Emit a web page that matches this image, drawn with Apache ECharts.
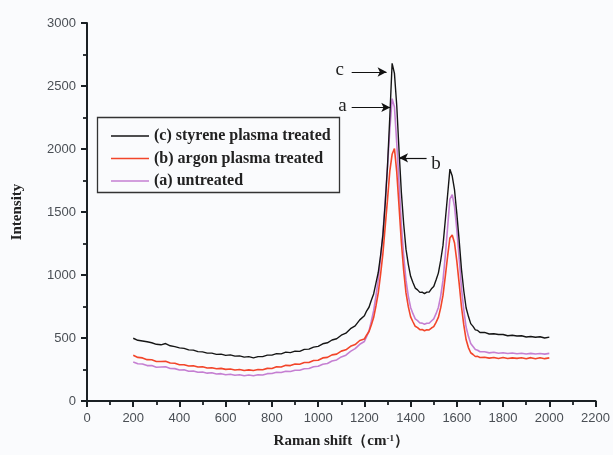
<!DOCTYPE html>
<html>
<head>
<meta charset="utf-8">
<script src="https://cdn.jsdelivr.net/npm/echarts@6/dist/echarts.min.js"></script>
<style>
html,body{margin:0;padding:0;background:#fafbfd;}
#c{width:613px;height:455px;}
</style>
</head>
<body>
<div id="c"></div>
<script>
// Raman shift (cm-1)
const ramanShift = [
 200,220,240,260,280,300,320,340,360,380,
 400,420,440,460,480,500,520,540,560,580,
 600,620,640,660,680,700,720,740,760,780,
 800,820,840,860,880,900,920,940,960,980,
 1000,1020,1040,1060,1080,1100,1120,1140,1160,1180,
 1200,1210,1220,1230,1240,1250,1260,1270,1280,1290,
 1300,1310,1320,1330,1340,1350,1360,1370,1380,1390,
 1400,1410,1420,1430,1440,1450,1460,1470,1480,1490,
 1500,1510,1520,1530,1540,1550,1560,1570,1580,1590,
 1600,1610,1620,1630,1640,1650,1660,1670,1680,1690,
 1700,1720,1740,1760,1780,1800,1820,1840,1860,1880,1900,1920,1940,1960,1980,2000
];
// (c) styrene plasma treated
const styrene = [
 498,482,476,470,462,450,446,456,438,432,
 422,418,406,404,392,390,380,380,370,372,
 362,366,356,358,348,352,342,352,352,364,
 364,376,374,388,384,396,394,410,412,428,
 434,454,462,484,494,522,538,574,596,644,
 676,716,744,800,850,935,1020,1155,1315,1565,
 1865,2255,2680,2600,2345,1985,1655,1405,1205,1085,
 990,940,896,882,862,864,852,864,864,890,
 908,960,1015,1115,1235,1435,1635,1840,1785,1675,
 1485,1275,1045,875,740,672,614,592,564,560,
 544,544,532,534,528,528,518,522,516,518,508,512,506,510,500,507
];
// (b) argon plasma treated
const argon = [
 363,346,342,328,327,314,314,316,302,300,
 288,288,278,280,270,272,262,264,256,259,
 251,254,246,250,242,247,242,250,248,259,
 258,271,270,283,281,293,292,305,306,322,
 324,342,346,366,372,396,406,434,448,480,
 492,524,552,604,662,754,858,1004,1168,1384,
 1598,1824,1958,2004,1818,1544,1258,1034,858,749,
 668,629,593,582,566,567,558,565,564,579,
 590,624,663,739,838,989,1148,1294,1318,1254,
 1108,934,748,604,488,424,383,369,353,354,
 345,347,340,345,337,345,337,342,338,343,336,344,335,343,336,342
];
// (a) untreated
const untreated = [
 310,296,294,281,282,268,270,272,258,257,
 246,248,236,238,228,230,221,224,214,217,
 208,212,204,208,201,206,201,208,206,217,
 218,228,226,236,234,244,244,256,258,272,
 276,292,298,317,326,350,364,394,416,450,
 472,513,557,633,717,833,967,1133,1327,1583,
 1857,2153,2400,2333,2047,1723,1397,1153,957,833,
 742,693,652,638,619,618,609,617,617,635,
 652,693,742,833,957,1153,1377,1603,1637,1543,
 1357,1133,897,723,587,513,457,433,409,403,
 391,391,382,387,379,383,377,381,375,379,373,378,373,377,372,378
];
const seriesNames = ['(c) styrene plasma treated','(b) argon plasma treated','(a) untreated'];
const xTicks = {min:0, max:2200, interval:200};
const yTicks = {min:0, max:3000, interval:500};

const pair = arr => arr.map((v,i)=>[ramanShift[i], v]);
const serif = 'Liberation Serif';
const sans = 'Liberation Sans';
const axisColor = '#1a2024';

const chart = echarts.init(document.getElementById('c'));
chart.setOption({
  animation:false,
  backgroundColor:'#fafbfd',
  grid:{left:87, right:17, top:23, bottom:54},
  xAxis:{type:'value', min:xTicks.min, max:xTicks.max, interval:xTicks.interval,
    axisLine:{show:true, lineStyle:{color:axisColor, width:2}},
    axisTick:{show:true, length:6, lineStyle:{color:axisColor, width:2}},
    minorTick:{show:true, splitNumber:2, length:4, lineStyle:{color:axisColor, width:1.8}},
    splitLine:{show:false},
    axisLabel:{color:'#4a4f55', fontFamily:sans, fontSize:13, margin:11, formatter:v=>String(v)},
    name:'{t|Raman shift（cm}{s|-1}{t|）}', nameLocation:'middle', nameGap:33,
    nameTextStyle:{rich:{
      t:{fontFamily:serif, fontWeight:'bold', fontSize:15, color:'#222'},
      s:{fontFamily:serif, fontWeight:'bold', fontSize:9, color:'#222', verticalAlign:'top', padding:[0,0,6,0]}
    }}},
  yAxis:{type:'value', min:yTicks.min, max:yTicks.max, interval:yTicks.interval,
    axisLine:{show:true, lineStyle:{color:axisColor, width:2}},
    axisTick:{show:true, length:6, lineStyle:{color:axisColor, width:2}},
    minorTick:{show:true, splitNumber:2, length:4, lineStyle:{color:axisColor, width:1.8}},
    splitLine:{show:false},
    axisLabel:{color:'#4a4f55', fontFamily:sans, fontSize:13, margin:11, formatter:v=>String(v)},
    name:'Intensity', nameLocation:'middle', nameGap:62, nameRotate:90,
    nameTextStyle:{fontFamily:serif, fontWeight:'bold', fontSize:15, color:'#222'}},
  legend:{
    orient:'vertical', left:106, top:123,
    data:[seriesNames[0], seriesNames[1], seriesNames[2]],
    icon:'rect', itemWidth:38, itemHeight:1.5, itemGap:6.5,
    textStyle:{fontFamily:serif, fontWeight:'bold', fontSize:16, color:'#222', lineHeight:16}
  },
  graphic:[{type:'rect', left:95, top:115, shape:{width:242, height:75},
    style:{fill:'none', stroke:'#333', lineWidth:1.3}, z:100}],
  series:[
    {name:seriesNames[2], type:'line', data:pair(untreated), symbol:'none',
     lineStyle:{color:'#c57fd2', width:1.6}, itemStyle:{color:'#c57fd2'}, z:2},
    {name:seriesNames[1], type:'line', data:pair(argon), symbol:'none',
     lineStyle:{color:'#f2452a', width:1.6}, itemStyle:{color:'#f2452a'}, z:3},
    {name:seriesNames[0], type:'line', data:pair(styrene), symbol:'none',
     lineStyle:{color:'#151515', width:1.4}, itemStyle:{color:'#151515'}, z:4,
     markLine:{silent:true, symbol:['none','arrow'], symbolSize:[7,9],
       lineStyle:{color:'#111', width:1.2, type:'solid'}, label:{show:false},
       data:[
         [{coord:[1145,2611]},{coord:[1296,2611]}],
         [{coord:[1145,2330]},{coord:[1312,2330]}],
         [{coord:[1469,1930]},{coord:[1350,1930]}]
       ]},
     markPoint:{silent:true, symbol:'circle', symbolSize:0,
       label:{show:true, position:'inside', formatter:'{b}', fontFamily:serif, fontSize:19, color:'#222'},
       data:[
         {name:'c', coord:[1093,2630]},
         {name:'a', coord:[1105,2345]},
         {name:'b', coord:[1510,1880]}
       ]}
    }
  ]
});
</script>
</body>
</html>
